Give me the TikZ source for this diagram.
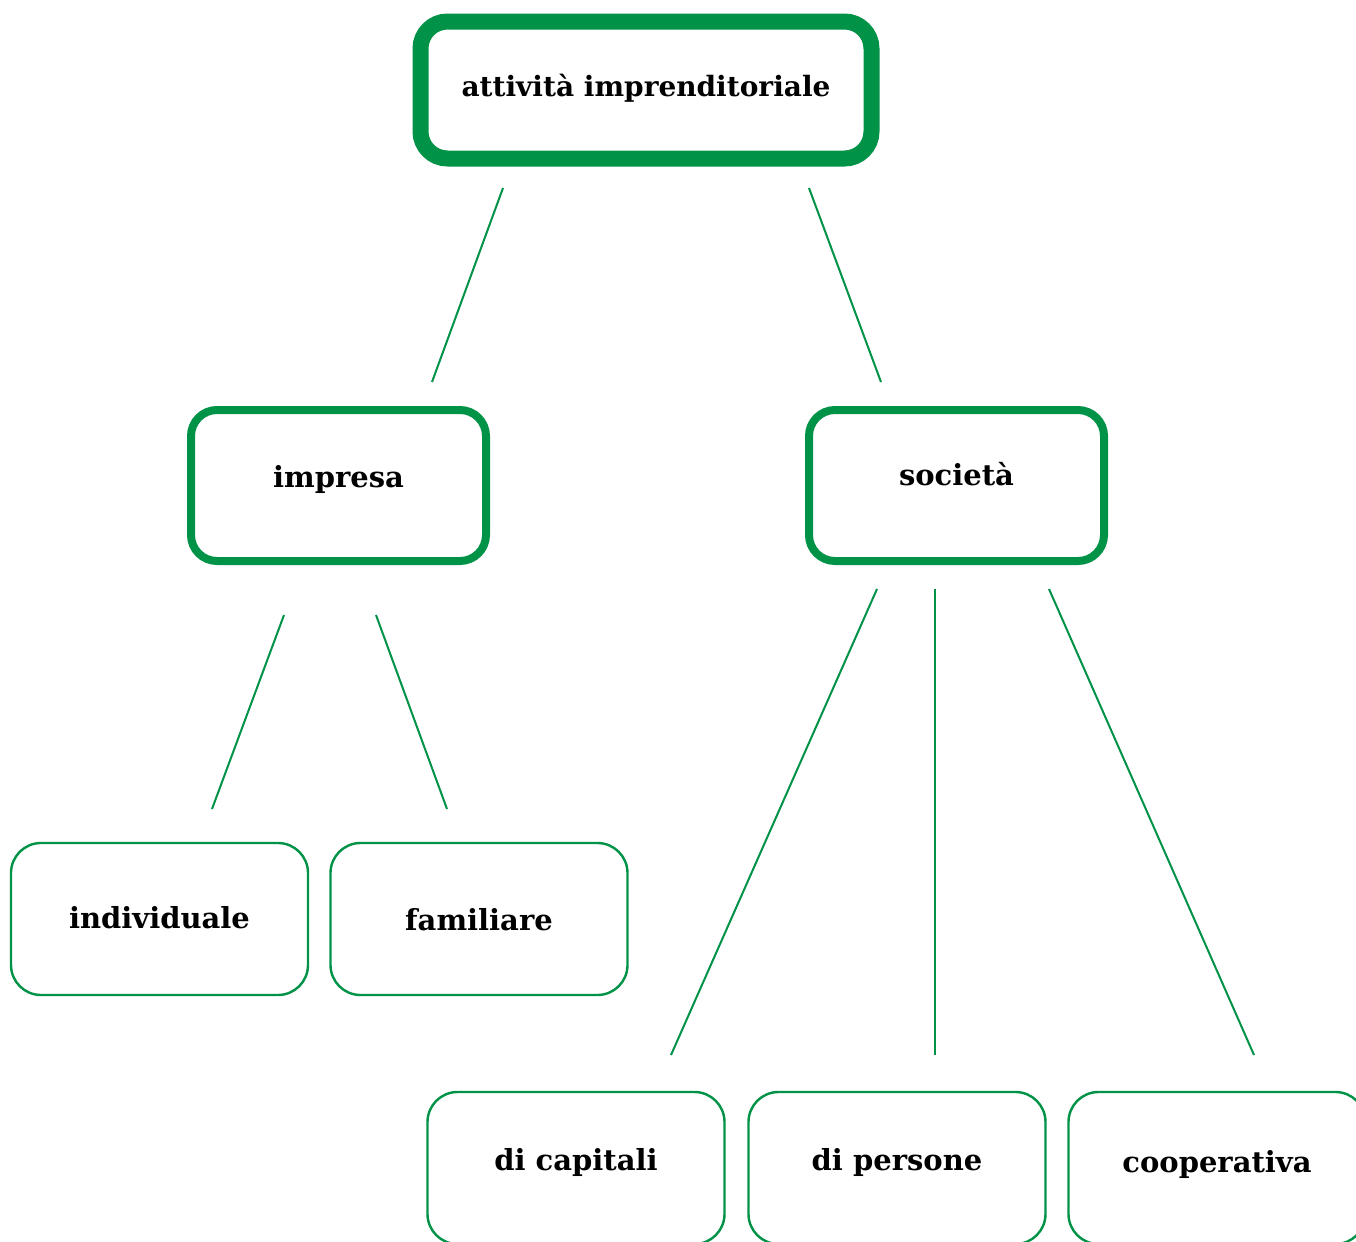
\documentclass[tikz,border=0pt]{standalone}
\usepackage{fontspec}
\setmainfont{DejaVu Serif}
\usetikzlibrary{calc}
\definecolor{vgreen}{RGB}{0,146,70}
\tikzset{
  basebox/.style={inner sep=0pt, text depth=4pt, font=\fontsize{14.5}{16}\selectfont\bfseries},
  topbox/.style={basebox, draw=vgreen, line width=8pt, rounded corners=13.5pt, minimum width=225.5pt, minimum height=68.5pt, font=\fontsize{14}{16}\selectfont\bfseries},
  midbox/.style={basebox, draw=vgreen, line width=4pt, rounded corners=13pt, minimum width=147.5pt, minimum height=75.5pt},
  leafbox/.style={basebox, draw=vgreen, line width=1.2pt, rounded corners=15pt, minimum width=148.5pt, minimum height=76pt},
  conn/.style={draw=vgreen, line width=1pt}
}
\begin{document}
\begin{tikzpicture}[x=0.5pt,y=-0.5pt]
\useasboundingbox (0,0) rectangle (1356,1242);
\clip (0,0) rectangle (1356,1242);
\node[topbox, text height=10pt] (top) at (646,90) {attività imprenditoriale};
\node[midbox, text height=6pt] (impresa) at (338.5,485.5) {impresa};
\node[midbox, text height=4pt] (societa) at (956.5,485.5) {società};
\node[leafbox, text height=13pt] (indiv) at (159.5,919) {individuale};
\node[leafbox, text height=15pt] (famil) at (479,919) {familiare};
\node[leafbox, text height=6pt] (capit) at (576,1168) {di capitali};
\node[leafbox, text height=6pt] (perso) at (897,1168) {di persone};
\node[leafbox, text height=8pt] (coop) at (1217,1168) {cooperativa};
% connector end points
\coordinate (t1) at (503,188);   \coordinate (i1) at (432,382);
\coordinate (t2) at (809,188);   \coordinate (s1) at (881,382);
\coordinate (i2) at (284,615);   \coordinate (n1) at (212,809);
\coordinate (i3) at (376,615);   \coordinate (f1) at (447,809);
\coordinate (s2) at (877,589);   \coordinate (c1) at (671,1055);
\coordinate (s3) at (935,589);   \coordinate (p1) at (935,1055);
\coordinate (s4) at (1049,589);  \coordinate (o1) at (1254,1055);
\draw[conn] (t1) -- (i1);
\draw[conn] (t2) -- (s1);
\draw[conn] (i2) -- (n1);
\draw[conn] (i3) -- (f1);
\draw[conn] (s2) -- (c1);
\draw[conn] (s3) -- (p1);
\draw[conn] (s4) -- (o1);
\end{tikzpicture}
\end{document}
